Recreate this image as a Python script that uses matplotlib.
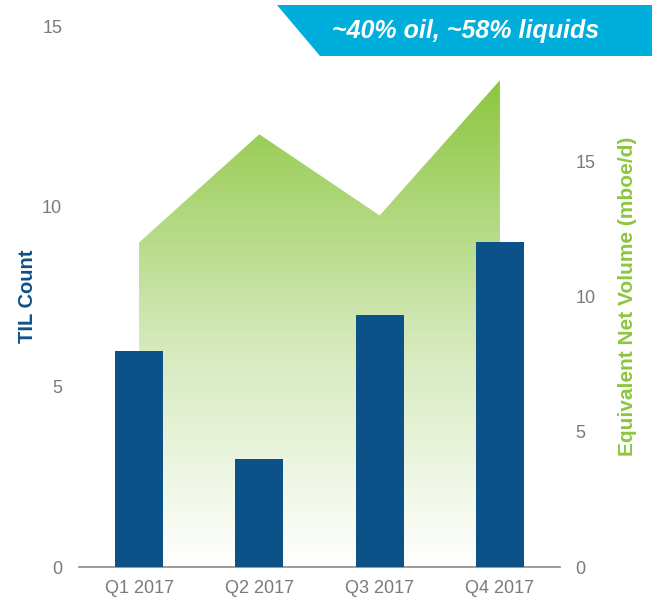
import numpy as np
import matplotlib
matplotlib.use("Agg")
import matplotlib.pyplot as plt
from matplotlib.patches import Polygon

plt.rcParams['font.family'] = ['Liberation Sans', 'DejaVu Sans']

quarters = ["Q1 2017", "Q2 2017", "Q3 2017", "Q4 2017"]
til_count = [6, 3, 7, 9]
net_volume = [12, 16, 13, 18]   # mboe/d

BLUE = "#0d5189"
GREEN = "#8cc63f"
GRAY = "#7a7a7a"
CYAN = "#00aedb"

fig = plt.figure(figsize=(6.52, 6.08), dpi=100)
ax = fig.add_axes([0.121, 0.0674, 0.738, 0.8896])
ax2 = ax.twinx()
ax.set_zorder(2)
ax.patch.set_visible(False)

x = np.arange(len(quarters))

# green gradient area on the volume axis
ax2.set_ylim(0, 20)
top = max(net_volume)
grad = np.linspace(0, 1, 256).reshape(-1, 1)
cmap = matplotlib.colors.LinearSegmentedColormap.from_list(
    "fade", [(0, "#ffffff"), (0.45, "#d6eabd"), (1, GREEN)])
img = ax2.imshow(grad, extent=[x[0], x[-1], 0, top], origin="lower",
                 cmap=cmap, aspect="auto", zorder=1)
poly = Polygon(np.column_stack([np.r_[x, x[::-1]],
                                np.r_[net_volume, np.zeros(len(x))]]),
               closed=True, transform=ax2.transData, facecolor="none")
img.set_clip_path(poly)

# TIL bars
ax.bar(x, til_count, width=0.4, color=BLUE, zorder=3)
ax.set_ylim(0, 15)
ax.set_xlim(-0.5, 3.5)
ax2.set_xlim(-0.5, 3.5)

ax.set_yticks([0, 5, 10, 15])
ax2.set_yticks([0, 5, 10, 15])
ax.set_xticks(x)
ax.set_xticklabels(quarters)

for a in (ax, ax2):
    for s in a.spines.values():
        s.set_visible(False)
ax.spines["bottom"].set_visible(True)
ax.spines["bottom"].set_color("#8a8a8a")
ax.spines["bottom"].set_linewidth(1.2)

ax.tick_params(axis="y", length=0, pad=12, labelsize=13, labelcolor=GRAY)
ax2.tick_params(axis="y", length=0, pad=11, labelsize=13, labelcolor=GRAY)
ax.tick_params(axis="x", length=0, pad=9, labelsize=13, labelcolor=GRAY)

ax.set_ylabel("TIL Count", color=BLUE, fontsize=14.5, fontweight="bold", labelpad=3.5)
ax2.set_ylabel("Equivalent Net Volume (mboe/d)", color=GREEN, fontsize=15,
               fontweight="bold", labelpad=16)

# banner at top right
banner = Polygon([[277, 603], [652, 603], [652, 552], [320, 552]], closed=True,
                 transform=None, facecolor=CYAN, edgecolor="none", zorder=10)
fig.patches.append(banner)
fig.text(466 / 652, 1 - 31 / 608, "~40% oil, ~58% liquids", color="white",
         fontsize=18, fontweight="bold", style="italic",
         ha="center", va="center", zorder=11)

fig.savefig("out.png", dpi=100)
